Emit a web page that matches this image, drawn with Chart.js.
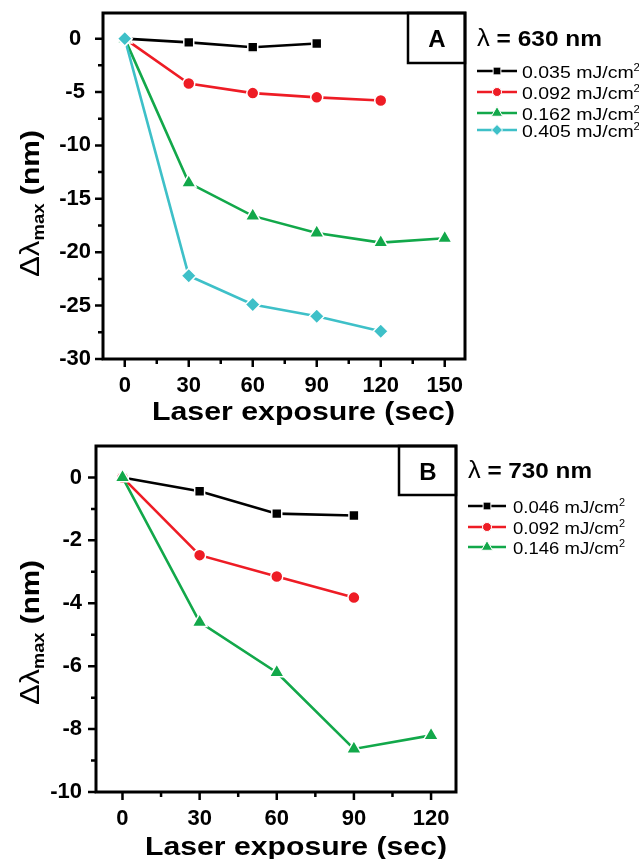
<!DOCTYPE html>
<html>
<head>
<meta charset="utf-8">
<script src="https://cdn.jsdelivr.net/npm/chart.js@4.4.0/dist/chart.umd.min.js"></script>
<style>
html, body { margin: 0; padding: 0; background: #fff; }
#wrap { position: relative; width: 639px; height: 859px; overflow: hidden; }
.panel { position: absolute; left: 0; width: 639px; }
</style>
</head>
<body>
<div id="wrap">
  <div class="panel" style="top:0;height:430px"><canvas id="chartA"></canvas></div>
  <div class="panel" style="top:430px;height:429px"><canvas id="chartB"></canvas></div>
</div>
<script>
// Panel A - lambda = 630 nm
const timeA = [0, 30, 60, 90, 120, 150];
const labelsA = ['0.035 mJ/cm²', '0.092 mJ/cm²', '0.162 mJ/cm²', '0.405 mJ/cm²'];
const shiftA035 = [0, -0.35, -0.8, -0.45];
const shiftA092 = [0, -4.2, -5.1, -5.5, -5.8];
const shiftA162 = [0, -13.5, -16.6, -18.2, -19.1, -18.7];
const shiftA405 = [0, -22.2, -24.9, -26.0, -27.4];
const xTicksA = [0, 30, 60, 90, 120, 150];
const yTicksA = [0, -5, -10, -15, -20, -25, -30];

// Panel B - lambda = 730 nm
const timeB = [0, 30, 60, 90, 120];
const labelsB = ['0.046 mJ/cm²', '0.092 mJ/cm²', '0.146 mJ/cm²'];
const shiftB046 = [0, -0.44, -1.15, -1.21];
const shiftB092 = [0, -2.47, -3.15, -3.82];
const shiftB146 = [0, -4.6, -6.2, -8.63, -8.2];
const xTicksB = [0, 30, 60, 90, 120];
const yTicksB = [0, -2, -4, -6, -8, -10];

const FONT = "'Liberation Sans', Arial, sans-serif";
const COLORS = ['#000000', '#ee1c25', '#12a84a', '#3ec0c8'];
const STYLES = [
  { pointStyle: 'rect', r: 7 },
  { pointStyle: 'circle', r: 6 },
  { pointStyle: 'triangle', r: 8.5 },
  { pointStyle: 'rectRot', r: 7.5 }
];

// draw a row of text runs, squeezed/stretched to a given width
function drawRuns(ctx, runs, x, y, width) {
  let total = 0;
  runs.forEach(r => { ctx.font = r[1]; total += ctx.measureText(r[0]).width; });
  const sx = width ? width / total : 1;
  ctx.save();
  ctx.translate(x, y);
  ctx.scale(sx, 1);
  let cx = 0;
  runs.forEach(r => {
    ctx.font = r[1];
    ctx.fillText(r[0], cx, r[2] || 0);
    cx += ctx.measureText(r[0]).width;
  });
  ctx.restore();
}

const decoPlugin = {
  id: 'deco',
  afterDraw(chart, args, o) {
    const ctx = chart.ctx;
    const a = chart.chartArea;
    const xs = chart.scales.x, ys = chart.scales.y;
    ctx.save();
    ctx.strokeStyle = '#000';
    ctx.fillStyle = '#000';
    ctx.textAlign = 'left';
    ctx.textBaseline = 'alphabetic';

    // frame
    ctx.lineWidth = 3;
    ctx.strokeRect(a.left, a.top, a.right - a.left, a.bottom - a.top);

    // major + minor tick marks (outside)
    ctx.lineWidth = 2.5;
    ctx.beginPath();
    o.xTicks.forEach((v, i) => {
      const px = xs.getPixelForValue(v);
      ctx.moveTo(px, a.bottom); ctx.lineTo(px, a.bottom + 8);
      if (i < o.xTicks.length - 1) {
        const m = xs.getPixelForValue((v + o.xTicks[i + 1]) / 2);
        ctx.moveTo(m, a.bottom); ctx.lineTo(m, a.bottom + 5);
      }
    });
    o.yTicks.forEach((v, i) => {
      const py = ys.getPixelForValue(v);
      ctx.moveTo(a.left, py); ctx.lineTo(a.left - 8, py);
      if (i < o.yTicks.length - 1) {
        const m = ys.getPixelForValue((v + o.yTicks[i + 1]) / 2);
        ctx.moveTo(a.left, m); ctx.lineTo(a.left - 5, m);
      }
    });
    ctx.stroke();

    // panel letter box
    ctx.lineWidth = 2.5;
    ctx.strokeRect(a.right - 57, a.top, 57, o.boxH);
    ctx.font = 'bold 24px ' + FONT;
    ctx.textAlign = 'center';
    ctx.fillText(o.panel, a.right - 28, a.top + o.boxH / 2 + 9);
    ctx.textAlign = 'left';

    // axis titles
    drawRuns(ctx, [['Laser exposure (sec)', 'bold 26px ' + FONT]], o.xTitle[0], o.xTitle[1], o.xTitle[2]);
    ctx.save();
    ctx.translate(o.yTitle[0], o.yTitle[1]);
    ctx.rotate(-Math.PI / 2);
    drawRuns(ctx, [
      ['Δλ', '27px ' + FONT],
      ['max', 'bold 16px ' + FONT, 5],
      [' (nm)', 'bold 26px ' + FONT]
    ], 0, 0, o.yTitle[2]);
    ctx.restore();

    // legend
    const lg = o.legend;
    drawRuns(ctx, [['λ', '23px ' + FONT], [' = ' + lg.title, 'bold 22px ' + FONT]], lg.x, lg.titleY, lg.titleW);
    chart.data.datasets.forEach((ds, i) => {
      const y = lg.rows[i];
      ctx.strokeStyle = ds.borderColor;
      ctx.lineWidth = 2.5;
      ctx.beginPath();
      ctx.moveTo(lg.x, y); ctx.lineTo(lg.x + lg.lineW, y);
      ctx.stroke();
      ctx.fillStyle = ds.borderColor;
      ctx.strokeStyle = '#fff';
      ctx.lineWidth = 1;
      Chart.helpers.drawPoint(ctx, {
        pointStyle: ds.pointStyle, radius: lg.pointR[i], borderWidth: 1, rotation: 0
      }, lg.x + lg.lineW / 2, y);
      ctx.fillStyle = '#000';
      const txt = ds.label.replace('²', '');
      drawRuns(ctx, [[txt, '17px ' + FONT], ['2', '10px ' + FONT, -7]], lg.textX, y + 7, lg.textW);
    });
    ctx.restore();
  }
};

function makeDatasets(time, series, labels) {
  const n = series.length;
  return series.map((vals, i) => ({
    label: labels[i],
    data: vals.map((v, k) => ({ x: time[k], y: v })),
    borderColor: COLORS[i],
    backgroundColor: COLORS[i],
    pointBackgroundColor: COLORS[i],
    pointBorderColor: '#ffffff',
    pointBorderWidth: 1.5,
    pointStyle: STYLES[i].pointStyle,
    pointRadius: STYLES[i].r,
    borderWidth: 2.6,
    tension: 0,
    order: n - i
  }));
}

function makeOptions(cfg) {
  return {
    responsive: true,
    maintainAspectRatio: false,
    animation: false,
    layout: { padding: { top: cfg.padTop, right: cfg.padRight, left: 0, bottom: 0 } },
    plugins: {
      legend: { display: false },
      tooltip: { enabled: false },
      deco: cfg.deco
    },
    scales: {
      x: {
        type: 'linear',
        min: cfg.xMin,
        max: cfg.xMax,
        afterBuildTicks: s => { s.ticks = cfg.xTicks.map(v => ({ value: v })); },
        afterFit: s => {
          s.height = cfg.xHeight;
          s.paddingLeft = 0; s.paddingRight = 0;
        },
        grid: { display: false, drawTicks: false },
        border: { display: false },
        ticks: {
          padding: 14,
          autoSkip: false,
          maxRotation: 0,
          color: '#000',
          font: { family: FONT, size: 22, weight: 'bold' }
        }
      },
      y: {
        type: 'linear',
        min: cfg.yMin,
        max: cfg.yMax,
        afterBuildTicks: s => { s.ticks = cfg.yTicks.map(v => ({ value: v })); },
        afterFit: s => {
          s.width = cfg.yWidth;
          s.paddingTop = 0; s.paddingBottom = 0;
        },
        grid: { display: false, drawTicks: false },
        border: { display: false },
        ticks: {
          padding: cfg.yPad,
          crossAlign: cfg.yAlign,
          autoSkip: false,
          color: '#000',
          font: { family: FONT, size: 22, weight: 'bold' }
        }
      }
    }
  };
}

new Chart(document.getElementById('chartA'), {
  type: 'line',
  data: { datasets: makeDatasets(timeA, [shiftA035, shiftA092, shiftA162, shiftA405], labelsA) },
  options: makeOptions({
    padTop: 13, padRight: 174, xHeight: 71, yWidth: 103,
    xMin: -10.2, xMax: 159.5, yMin: -30, yMax: 2.4,
    xTicks: xTicksA, yTicks: yTicksA, yPad: 12, yAlign: 'center',
    deco: {
      xTicks: xTicksA, yTicks: yTicksA, panel: 'A', boxH: 50,
      xTitle: [152, 420, 303], yTitle: [39, 277, 147],
      legend: {
        title: '630 nm', x: 477, titleY: 46, titleW: 125,
        rows: [71, 92, 113, 130], lineW: 40, textX: 522, textW: 118,
        pointR: [5.5, 4.5, 6.5, 5.5]
      }
    }
  }),
  plugins: [decoPlugin]
});

new Chart(document.getElementById('chartB'), {
  type: 'line',
  data: { datasets: makeDatasets(timeB, [shiftB046, shiftB092, shiftB146], labelsB) },
  options: makeOptions({
    padTop: 16, padRight: 183, xHeight: 67, yWidth: 96,
    xMin: -10.3, xMax: 129.7, yMin: -10, yMax: 1,
    xTicks: xTicksB, yTicks: yTicksB, yPad: 14, yAlign: 'near',
    deco: {
      xTicks: xTicksB, yTicks: yTicksB, panel: 'B', boxH: 49,
      xTitle: [145, 425, 302], yTitle: [39, 275, 145],
      legend: {
        title: '730 nm', x: 468, titleY: 48, titleW: 124,
        rows: [76, 97, 117], lineW: 38, textX: 513, textW: 112,
        pointR: [5.5, 4.5, 6.5]
      }
    }
  }),
  plugins: [decoPlugin]
});
</script>
</body>
</html>
